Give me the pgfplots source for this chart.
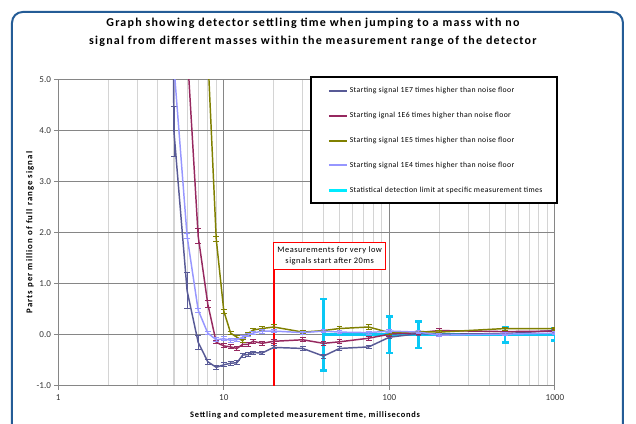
\documentclass[border=0pt]{standalone}
\usepackage{fontspec}
\setmainfont{Carlito}
\newfontfamily\titlefont[LetterSpace=10]{Carlito}
\newfontfamily\xlabfont[LetterSpace=9]{Carlito}
\newfontfamily\ylabfont[LetterSpace=12]{Carlito}
\newfontfamily\legfont[LetterSpace=5]{Carlito}
\newfontfamily\notefont[LetterSpace=6]{Carlito}
\usepackage{pgfplots}
\pgfplotsset{compat=1.18}
\usepackage{pgfplotstable}

\definecolor{sone}{RGB}{88,90,150}
\definecolor{stwo}{RGB}{150,40,95}
\definecolor{sthree}{RGB}{128,128,0}
\definecolor{sfour}{RGB}{150,150,255}
\definecolor{limit}{RGB}{10,200,245}
\definecolor{limitleg}{RGB}{0,235,255}
\definecolor{frame}{RGB}{36,92,150}
\definecolor{majgrid}{RGB}{134,134,134}
\definecolor{mingrid}{RGB}{212,212,212}

% starting signal 1E7
\pgfplotstableread{
x y e
4 40 0
5 3.97 0.49
6 0.86 0.35
7 -0.15 0.14
8 -0.53 0.05
9 -0.64 0.04
10 -0.59 0.04
11 -0.56 0.04
12 -0.55 0.04
13 -0.40 0.04
14 -0.39 0.04
15 -0.35 0.03
17 -0.36 0.03
20 -0.25 0.03
30 -0.27 0.04
40 -0.42 0.04
50 -0.27 0.03
75 -0.24 0.03
100 -0.05 0.03
150 0.02 0.03
200 0.01 0.03
500 0.02 0.03
1000 0.08 0.03
}\sone
% 1E6
\pgfplotstableread{
x y e
5 12 0
6 5.6 0.05
7 1.93 0.15
8 0.60 0.07
9 -0.15 0.03
10 -0.22 0.04
11 -0.24 0.04
12 -0.27 0.04
13 -0.19 0.04
14 -0.19 0.04
15 -0.13 0.04
17 -0.17 0.04
20 -0.13 0.04
30 -0.10 0.04
40 -0.17 0.04
50 -0.14 0.04
75 -0.07 0.04
100 0.01 0.04
150 0.04 0.03
200 0.08 0.04
500 0.06 0.03
1000 0.07 0.03
}\stwo
% 1E5
\pgfplotstableread{
x y e
7 12 0
8 5.5 0.05
9 1.87 0.05
10 0.46 0.04
11 0.03 0.03
12 -0.05 0.03
13 -0.12 0.03
14 0.02 0.03
15 0.09 0.03
17 0.12 0.04
20 0.15 0.04
30 0.05 0.03
40 0.08 0.03
50 0.12 0.04
75 0.15 0.04
100 0.04 0.03
150 0.06 0.03
200 0.05 0.03
500 0.12 0.03
1000 0.12 0.03
}\sthree
% 1E4
\pgfplotstableread{
x y e
4 30 0
5 5.25 0.05
6 1.93 0.05
7 0.48 0.04
8 0.03 0.03
9 -0.10 0.04
10 -0.08 0.04
11 -0.11 0.04
12 -0.10 0.03
13 -0.05 0.03
14 -0.01 0.03
15 0.03 0.03
17 0.07 0.04
20 0.07 0.03
30 0.04 0.03
40 0.07 0.03
50 0.05 0.03
75 0.04 0.03
100 0.07 0.03
150 0.05 0.03
200 -0.01 0.03
500 0.01 0.03
1000 0.03 0.03
}\sfour
% detection limit
\pgfplotstableread{
x y e
40 0 0.70
100 0 0.36
150 0 0.26
500 0 0.15
1000 0 0.12
}\slimit

\pgfplotsset{
  ser/.style={#1, line width=1.1pt, forget plot,
    error bars/.cd, y dir=both, y explicit,
    error bar style={line width=0.7pt, #1},
    error mark options={rotate=90, mark size=2.2pt, line width=0.7pt, #1}},
}

\begin{document}
\begin{tikzpicture}
\useasboundingbox (-43.7pt,-28pt) rectangle (433.3pt,289.3pt);
\clip (-43.7pt,-28pt) rectangle (433.3pt,289.3pt);
\draw[frame, line width=1.5pt, rounded corners=8pt] (-34.7pt,-45pt) rectangle (423.5pt,280.3pt);
\node[font=\titlefont\bfseries\fontsize{9}{14}\selectfont, align=center] at (191pt,265pt)
  {Graph showing detector settling time when jumping to a mass with no\\
   signal from different masses within the measurement range of the detector};
\begin{axis}[
  at={(0,0)}, anchor=south west,
  scale only axis, width=372.5pt, height=229.8pt,
  xmode=log, xmin=1, xmax=1000, ymin=-1, ymax=5,
  xtick={1,10,100,1000}, xticklabels={1,10,100,1000},
  ytick={-1,0,...,5},
  tick label style={font=\fontsize{6.8}{8}\selectfont, text=black!80},
  yticklabel style={xshift=1pt, /pgf/number format/.cd, fixed, fixed zerofill, precision=1},
  /pgf/number format/assume math mode=true,
  grid=both, major grid style={majgrid, line width=0.8pt},
  minor grid style={mingrid, line width=0.8pt},
  axis x line*=bottom, axis y line*=left,
  axis line style={majgrid, line width=0.8pt}, tick style={majgrid, line width=0.8pt},
  tick align=outside, major tick length=3pt, minor tick length=0pt,
  clip mode=individual,
  xlabel={Settling and completed measurement time, milliseconds},
  ylabel={Parts per million of full range signal},
  xlabel style={at={(axis description cs:0.497,-0.0957)}, anchor=center,
    font=\xlabfont\bfseries\fontsize{6.3}{7}\selectfont},
  ylabel style={at={(axis description cs:-0.0569,0.5)}, anchor=center,
    font=\ylabfont\bfseries\fontsize{6.6}{7}\selectfont},
  legend cell align=left,
  legend image code/.code={\draw[#1] (0pt,0pt) -- (13.5pt,0pt);},
  legend style={at={(rel axis cs:0.541,0.9762)}, anchor=north west, draw=none, fill=none,
    inner sep=0pt, row sep=12.4pt,
    font=\legfont\fontsize{5.8}{6}\selectfont,
    nodes={inner ysep=0.5pt, inner xsep=1pt, text height=4pt, text depth=1.2pt}},
]
\draw[black, line width=1.3pt, fill=white] (rel axis cs:0.5088,1.0075) rectangle (rel axis cs:1.0042,0.596);
\draw[red, line width=1.5pt] (axis cs:20,-1) -- (axis cs:20,1.28);
\draw[red, line width=0.8pt, fill=white] (axis cs:20,1.28) rectangle (axis cs:94.6,1.81);
\node[align=center, font=\notefont\fontsize{6.3}{8}\selectfont] at (axis cs:43.6,1.545)
  {Measurements for very low\\signals start after 20ms};

\addplot[limit, line width=2.2pt, forget plot,
  error bars/.cd, y dir=both, y explicit,
  error bar style={line width=2pt, limit},
  error mark options={rotate=90, mark size=2.6pt, line width=2pt, limit}]
  table[x=x, y=y, y error=e] {\slimit};
\addplot[ser=sone] table[x=x, y=y, y error=e] {\sone};
\addplot[ser=stwo] table[x=x, y=y, y error=e] {\stwo};
\addplot[ser=sthree] table[x=x, y=y, y error=e] {\sthree};
\addplot[ser=sfour] table[x=x, y=y, y error=e] {\sfour};

\addlegendimage{sone, line width=1.5pt}
\addlegendentry{Starting signal 1E7 times higher than noise floor}
\addlegendimage{stwo, line width=1.5pt}
\addlegendentry{Starting ignal 1E6 times higher than noise floor}
\addlegendimage{sthree, line width=1.5pt}
\addlegendentry{Starting signal 1E5 times higher than noise floor}
\addlegendimage{sfour, line width=1.5pt}
\addlegendentry{Starting signal 1E4 times higher than noise floor}
\addlegendimage{limitleg, line width=2.4pt}
\addlegendentry{Statistical detection limit at specific measurement times}
\end{axis}
\end{tikzpicture}
\end{document}
